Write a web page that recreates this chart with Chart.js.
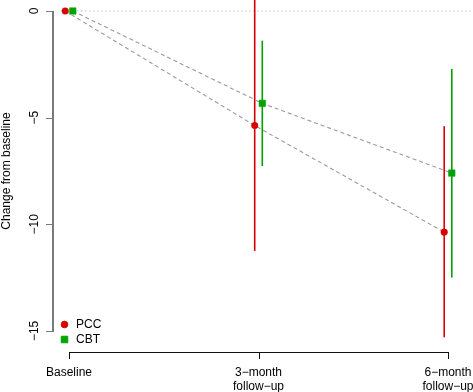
<!DOCTYPE html>
<html>
<head>
<meta charset="utf-8">
<script src="https://cdn.jsdelivr.net/npm/chart.js@4"></script>
<style>
  html, body { margin: 0; padding: 0; background: #fff; }
  canvas { display: block; }
</style>
</head>
<body>
<canvas id="chart" width="473" height="392"></canvas>
<script>
// datos
const categories = ['Baseline', ['3\u2212month', 'follow\u2212up'], ['6\u2212month', 'follow\u2212up']];
const catPos = [0, 1, 2];

const pccMean  = [0, -5.37, -10.37];
const pccLower = [0, -11.25, -15.3];
const pccUpper = [0, 0.6, -5.4];

const cbtMean  = [0, -4.33, -7.6];
const cbtLower = [0, -7.27, -12.5];
const cbtUpper = [0, -1.39, -2.72];

const yTicks = [0, -5, -10, -15];
const yTickLabels = ['0', '\u22125', '\u221210', '\u221215'];

const RED = '#d80000';
const GREEN = '#00a300';
const FONT = '12px "Liberation Sans", Arial, Helvetica, sans-serif';

const X_MIN = -0.0422, X_MAX = 2.1319;
const Y_MIN = -15.52, Y_MAX = 0.516;
const OFF = 0.02;

function pts(xs, ys, off) {
    return xs.map((x, i) => ({ x: x + off, y: ys[i] }));
}

function errorBars(lower, upper, off, color) {
    let sets = [];
    catPos.forEach((x, i) => {
        if (lower[i] === upper[i]) return;
        sets.push({
            data: [{ x: x + off, y: lower[i] }, { x: x + off, y: upper[i] }],
            borderColor: color, borderWidth: 1.6, pointRadius: 0, showLine: true
        });
    });
    return sets;
}

const datasets = [
    {
        label: 'PCC',
        data: pts(catPos, pccMean, -OFF),
        borderColor: '#9a9a9a', borderWidth: 1.1, borderDash: [4, 3],
        pointStyle: 'circle', pointRadius: 3.3,
        pointBackgroundColor: RED, pointBorderColor: RED, pointBorderWidth: 0.5,
        showLine: true
    },
    {
        label: 'CBT',
        data: pts(catPos, cbtMean, OFF),
        borderColor: '#9a9a9a', borderWidth: 1.1, borderDash: [4, 3],
        pointStyle: 'rect', pointRadius: 4.6,
        pointBackgroundColor: GREEN, pointBorderColor: GREEN, pointBorderWidth: 0.5,
        showLine: true
    },
    ...errorBars(pccLower, pccUpper, -OFF, RED),
    ...errorBars(cbtLower, cbtUpper, OFF, GREEN),
    {
        label: 'zero',
        data: [{ x: X_MIN, y: 0 }, { x: X_MAX, y: 0 }],
        borderColor: '#c4c4c4', borderWidth: 1, borderDash: [1.5, 2.5],
        pointRadius: 0, showLine: true
    }
];

// ejes estilo R, desplazados del área de trazado
const rAxes = {
    id: 'rAxes',
    afterDraw(chart) {
        const ctx = chart.ctx;
        const xs = chart.scales.x, ys = chart.scales.y;
        ctx.save();
        ctx.font = FONT;

        // eje Y
        const yTop = Math.round(ys.getPixelForValue(yTicks[0]));
        const yBot = Math.round(ys.getPixelForValue(yTicks[yTicks.length - 1]));
        ctx.fillStyle = '#7a7a7a';
        ctx.fillRect(52, yTop, 2, yBot - yTop + 1);
        yTicks.forEach(v => {
            const py = Math.round(ys.getPixelForValue(v));
            ctx.fillRect(46, py, 7, 1);
        });
        ctx.fillStyle = '#000';
        yTickLabels.forEach((lab, i) => {
            const py = ys.getPixelForValue(yTicks[i]);
            ctx.save();
            ctx.translate(37.5, py);
            ctx.rotate(-Math.PI / 2);
            ctx.textAlign = 'center';
            ctx.textBaseline = 'alphabetic';
            ctx.fillText(lab, 0, 0);
            ctx.restore();
        });

        // título Y
        ctx.save();
        ctx.translate(10, (yTop + yBot) / 2);
        ctx.rotate(-Math.PI / 2);
        ctx.textAlign = 'center';
        ctx.fillText('Change from baseline', 0, 0);
        ctx.restore();

        // eje X
        const ay = 352;
        const xL = Math.round(xs.getPixelForValue(catPos[0]));
        const xR = Math.round(xs.getPixelForValue(catPos[catPos.length - 1]));
        ctx.fillStyle = '#111';
        ctx.fillRect(xL, ay, xR - xL + 1, 1);
        catPos.forEach(v => {
            const px = Math.round(xs.getPixelForValue(v));
            ctx.fillRect(px, ay, 1, 7);
        });
        ctx.fillStyle = '#000';
        ctx.textAlign = 'center';
        categories.forEach((lab, i) => {
            const px = xs.getPixelForValue(catPos[i]);
            const lines = Array.isArray(lab) ? lab : [lab];
            lines.forEach((t, j) => ctx.fillText(t, px, 376 + j * 13.5));
        });

        // leyenda abajo a la izquierda
        const lx = chart.chartArea.left + 3.5;
        const items = [
            { text: 'PCC', color: RED, style: 'circle', r: 3.3, y: 324.5 },
            { text: 'CBT', color: GREEN, style: 'rect', r: 4.6, y: 339.5 }
        ];
        ctx.textAlign = 'left';
        ctx.textBaseline = 'middle';
        items.forEach(it => {
            ctx.fillStyle = it.color;
            ctx.strokeStyle = it.color;
            Chart.helpers.drawPoint(ctx, { pointStyle: it.style, radius: it.r, borderWidth: 0.5 }, lx, it.y);
            ctx.fillStyle = '#000';
            ctx.fillText(it.text, lx + 11.5, it.y + 0.5);
        });
        ctx.restore();
    }
};

new Chart(document.getElementById('chart'), {
    type: 'scatter',
    data: { datasets },
    options: {
        responsive: false,
        animation: false,
        layout: { autoPadding: false, padding: { left: 61, right: 0, top: 0, bottom: 50 } },
        scales: {
            x: { type: 'linear', min: X_MIN, max: X_MAX, display: false },
            y: { type: 'linear', min: Y_MIN, max: Y_MAX, display: false }
        },
        plugins: {
            legend: { display: false },
            tooltip: { enabled: false }
        }
    },
    plugins: [rAxes]
});
</script>
</body>
</html>
